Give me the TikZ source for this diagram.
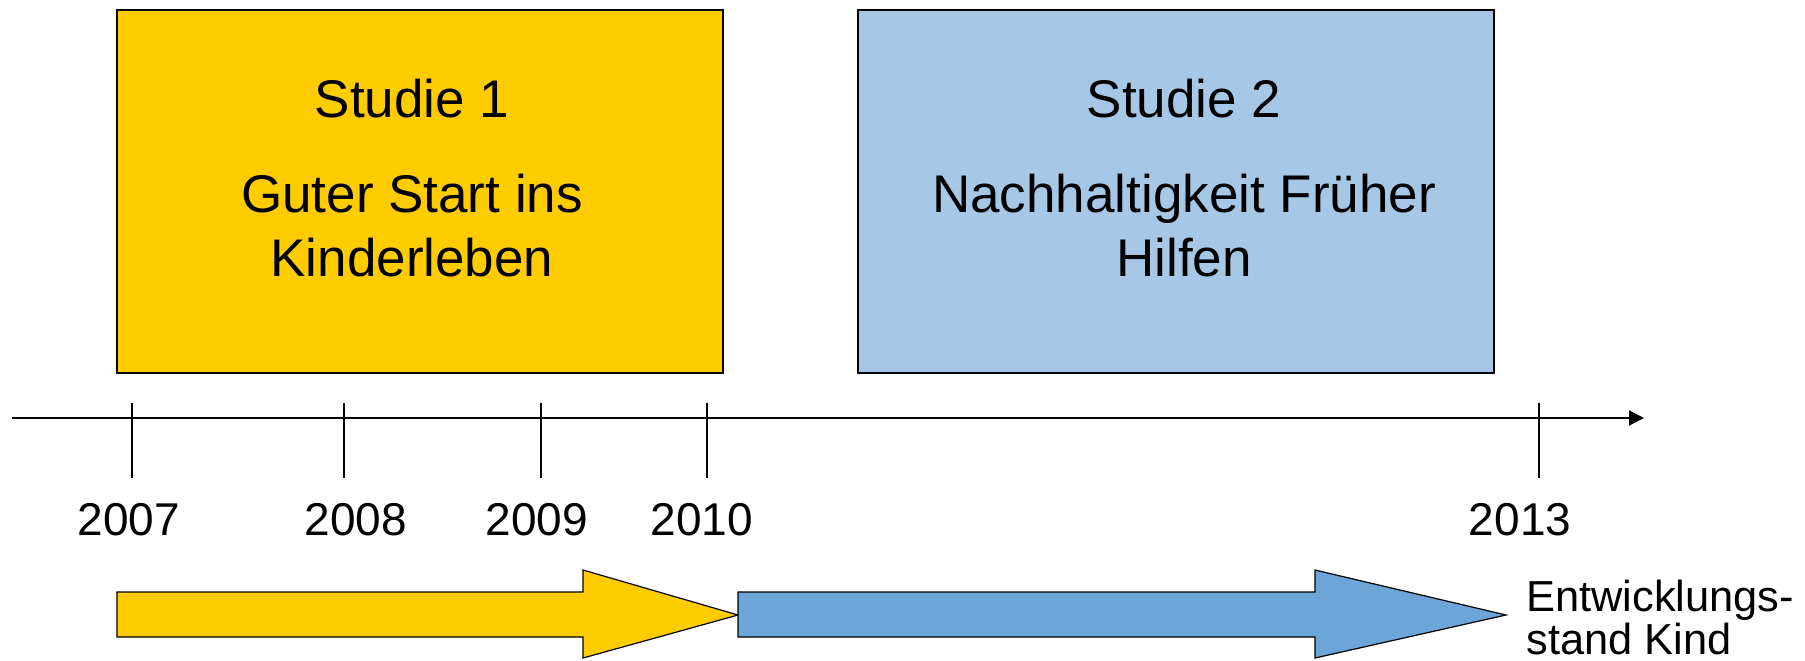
\documentclass[tikz,border=0pt]{standalone}
\usepackage{fontspec}
\setmainfont{Liberation Sans}
\usetikzlibrary{arrows.meta}
\definecolor{gelb}{HTML}{FFCC00}
\definecolor{hellblau}{HTML}{A6C8E6}
\definecolor{pfeilblau}{HTML}{6CA6D8}
\begin{document}
\begin{tikzpicture}[x=0.5pt,y=-0.5pt,
  studybox/.style={draw=black,line width=0.75pt,anchor=north west,inner sep=0pt,outer sep=0pt},
  boxtext/.style={anchor=base,inner sep=0pt,font=\fontsize{26.5}{32}\selectfont},
  yeartext/.style={anchor=base,inner sep=0pt,font=\fontsize{23}{28}\selectfont},
  sidetext/.style={anchor=base west,inner sep=0pt,font=\fontsize{21.7}{22}\selectfont},
  tickline/.style={line width=0.65pt},
  axisline/.style={line width=1pt,-{Triangle[length=7.5pt,width=7.5pt]}},
  blockarrow/.style={draw=black,line width=0.6pt,line join=miter}]
\useasboundingbox (0,0) rectangle (1805,660);

% study boxes
\node[studybox,fill=gelb,minimum width=303pt,minimum height=181.5pt] (s1) at (117,10) {};
\node[studybox,fill=hellblau,minimum width=318pt,minimum height=181.5pt] (s2) at (858,10) {};

\node[boxtext] (s1a) at (412,117) {Studie 1};
\node[boxtext] (s1b) at (412,212) {Guter Start ins};
\node[boxtext] (s1c) at (412,276) {Kinderleben};

\node[boxtext] (s2a) at (1184,117) {Studie 2};
\node[boxtext] (s2b) at (1184,212) {Nachhaltigkeit Früher};
\node[boxtext] (s2c) at (1184,276) {Hilfen};

% time axis
\coordinate (axstart) at (11.5,418);
\coordinate (axend) at (1644,418);
\draw[axisline] (axstart) -- (axend);

\foreach \x/\lx/\yr in {132/129/2007, 344/356/2008, 541/537/2009, 707/702/2010, 1539/1520/2013}{
  \coordinate (t\yr a) at (\x,403);
  \coordinate (t\yr b) at (\x,478);
  \draw[tickline] (t\yr a) -- (t\yr b);
  \node[yeartext] (y\yr) at (\lx,535) {\yr};
}

% block arrows
\draw[blockarrow,fill=gelb] (117,592) -- (583,592) -- (583,570) -- (738,615)
  coordinate (gtip) -- (583,658) -- (583,637) -- (117,637) -- cycle;
\draw[blockarrow,fill=pfeilblau] (gtip) |- (1315,592) -- (1315,570) -- (1506,615)
  -- (1315,658) -- (1315,637) -| (gtip);

\node[sidetext] (ent1) at (1526,611) {Entwicklungs-};
\node[sidetext] (ent2) at (1526,654) {stand Kind};
\end{tikzpicture}
\end{document}
